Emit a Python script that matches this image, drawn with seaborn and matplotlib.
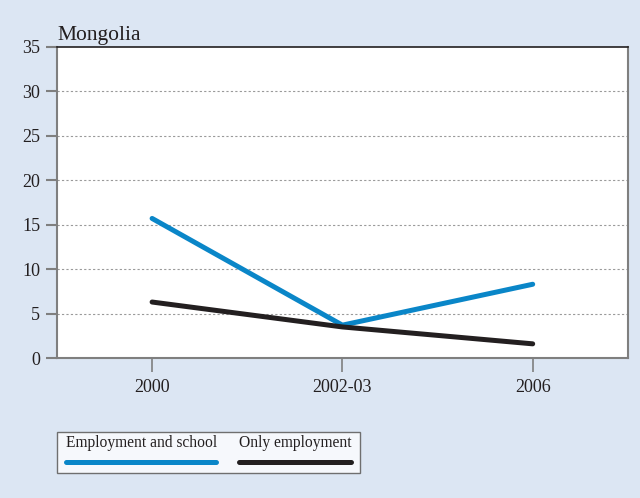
import matplotlib
matplotlib.use("Agg")
import matplotlib.pyplot as plt
import seaborn as sns
import pandas as pd
from matplotlib.patches import Rectangle
from matplotlib.lines import Line2D

periods = ["2000", "2002-03", "2006"]
emp_school = [15.7, 3.7, 8.3]
only_emp = [6.3, 3.5, 1.6]
series_names = ["Employment and school", "Only employment"]
yticks = [0, 5, 10, 15, 20, 25, 30, 35]
colors = ["#0a86c8", "#231f20"]

df = pd.DataFrame({
    "period": periods * 2,
    "value": emp_school + only_emp,
    "series": [series_names[0]] * 3 + [series_names[1]] * 3,
})
df["x"] = [0, 1, 2] * 2

sns.set_theme(style="white")
plt.rcParams["font.family"] = ["Liberation Serif", "DejaVu Serif"]

bg = "#dce6f3"
fig = plt.figure(figsize=(6.4, 4.98), dpi=100, facecolor=bg)
ax = fig.add_axes([0.089, 0.281, 0.892, 0.625])
ax.set_facecolor("white")

sns.lineplot(data=df, x="x", y="value", hue="series", palette=colors,
             linewidth=3.6, ax=ax, legend=False, solid_capstyle="round")

ax.set_xlim(-0.5, 2.5)
ax.set_ylim(0, 35)
ax.set_xticks([0, 1, 2])
ax.set_xticklabels(periods)
ax.set_yticks(yticks)
ax.set_xlabel("")
ax.set_ylabel("")
for y in yticks[1:-1]:
    ax.axhline(y, color="#9a9a9a", linestyle=(0, (2, 2)), linewidth=0.8, zorder=0)

for side in ["left", "right", "bottom"]:
    ax.spines[side].set_color("#7f7f7f")
    ax.spines[side].set_linewidth(1.5)
ax.spines["top"].set_color("#231f20")
ax.spines["top"].set_linewidth(1.2)

ax.tick_params(axis="y", direction="out", length=8, width=1.5, color="#7f7f7f",
               labelsize=13, pad=4, left=True, labelcolor="#231f20")
ax.tick_params(axis="x", direction="out", length=10, width=1.2, color="#7f7f7f",
               labelsize=13, pad=5, bottom=True, labelcolor="#231f20")

fig.text(57 / 640, 1 - 40 / 498, "Mongolia", fontsize=15.5, color="#231f20",
         ha="left", va="baseline")

# Legend box (text above line handles)
W, H = 640, 498
fig.patches.append(Rectangle((57 / W, 1 - 473 / H), (360 - 57) / W, (473 - 432) / H,
                             transform=fig.transFigure, facecolor="#f6f8fc",
                             edgecolor="#6f6f6f", linewidth=1.0))
leg = [(66, 216, series_names[0], colors[0]), (239, 351, series_names[1], colors[1])]
for x0, x1, name, c in leg:
    fig.text(x0 / W, 1 - 443 / H, name, fontsize=11.2, color="#231f20",
             ha="left", va="center")
    fig.add_artist(Line2D([x0 / W, x1 / W], [1 - 462 / H, 1 - 462 / H],
                          transform=fig.transFigure, color=c, linewidth=3.6,
                          solid_capstyle="round"))

fig.savefig("out.png", dpi=100, facecolor=bg)
